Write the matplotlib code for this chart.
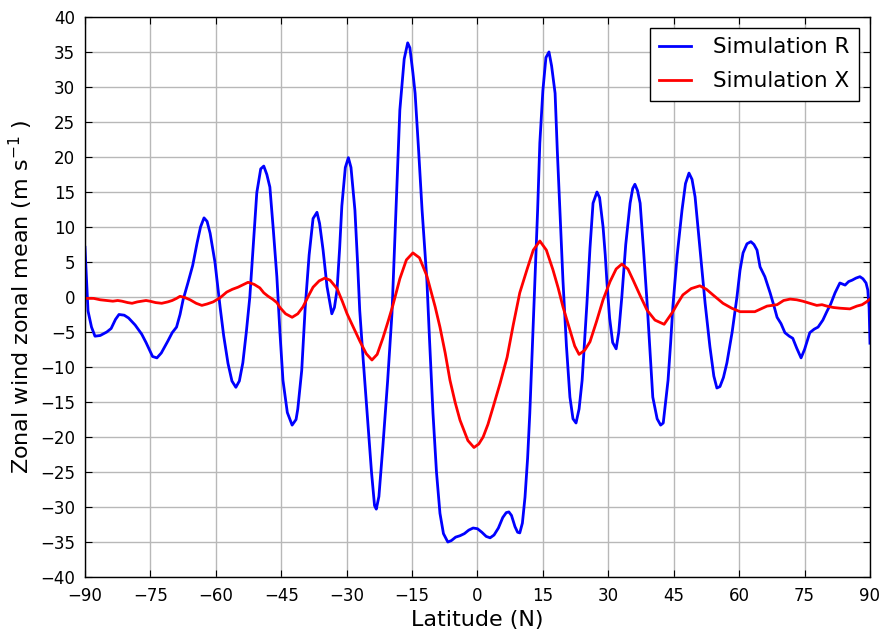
import matplotlib
matplotlib.use("Agg")
import matplotlib.pyplot as plt
import numpy as np

# Simulation R
lat_r = [-90, -89.6, -89.3, -88.5, -87.7, -86.5, -85, -84, -83, -82.2, -81, -80, -78.5, -77,
         -76, -74.5, -73.5, -72.5, -71, -70, -69, -68.2, -67.5, -66.4, -65.3, -64.3, -63.5,
         -62.7, -62, -61.3, -60.2, -59, -58.2, -57.2, -56.3, -55.4, -54.6, -53.8, -53, -52.2,
         -51.4, -50.6, -49.7, -49, -48.3, -47.6, -46.8, -46, -45.3, -44.6, -43.6, -42.5,
         -41.6, -41.2, -40.3, -39.5, -38.6, -37.7, -36.8, -36.2, -35.4, -34.5, -33.4, -32.8,
         -32.2, -31.6, -31.1, -30.3, -29.6, -29, -28.1, -27.5, -27, -26.2, -25.3, -24.3,
         -23.6, -23.2, -22.6, -21.7, -20.6, -19.6, -18.7, -17.8, -16.8, -16, -15.5, -14.8,
         -14.3, -13.5, -12.7, -11.6, -11, -10.2, -9.4, -8.6, -7.8, -6.8, -6, -5, -4, -3, -2,
         -1, 0, 1, 2, 2.9, 3.8, 4.8, 5.8, 6.6, 7.2, 7.8, 8.6, 9.2, 9.7, 10.3, 10.9, 11.5, 12,
         12.6, 13.2, 13.8, 14.3, 15, 15.7, 16.4, 17, 17.8, 18.3, 18.9, 19.6, 20.4, 21.2, 21.9,
         22.6, 23.3, 24, 24.6, 25.1, 25.8, 26.5, 27.4, 28, 28.8, 29.3, 29.7, 30.3, 31, 31.8,
         32.4, 33.1, 34, 35, 35.6, 36.1, 36.7, 37.3, 38.1, 38.9, 39.6, 40.2, 41.2, 42, 42.6,
         43.7, 44.3, 44.8, 45.8, 46.9, 47.7, 48.5, 49.2, 49.9, 51, 52.2, 53.3, 54.2, 54.9,
         55.6, 56.4, 57.2, 58.4, 59.5, 60.2, 60.9, 61.8, 62.7, 63.4, 64.1, 64.8, 65.9, 67.1,
         68, 68.7, 69.6, 70.5, 71.5, 72.3, 73.2, 74.2, 75, 76.2, 77.2, 78.1, 79.2, 80.1, 81,
         82, 83.1, 84.3, 85.1, 85.9, 86.8, 87.7, 88.4, 89.1, 89.5, 89.8, 90]
u_r = [7.1, 2, -2, -4.3, -5.6, -5.5, -5, -4.5, -3.2, -2.5, -2.6, -3, -4, -5.3,
       -6.5, -8.5, -8.7, -8, -6.3, -5.1, -4.3, -2.5, -0.4, 2, 4.5, 7.7, 10,
       11.3, 10.8, 9.1, 5, -1.5, -5.5, -9.5, -12, -12.9, -12, -9.4, -5, 0,
       7.5, 14.9, 18.3, 18.7, 17.5, 15.7, 9.5, 2.9, -5, -11.9, -16.5, -18.3,
       -17.5, -16, -10.5, -1.5, 6, 11.2, 12.1, 10.5, 6.7, 1.5, -2.4, -1.5,
       1, 7, 13, 18.5, 19.9, 18.5, 12.4, 5, -1.9, -9, -16.6, -25,
       -29.8, -30.3, -28.5, -21.4, -12, -2.3, 12, 26.7, 34, 36.3, 35.6, 32,
       29.1, 21, 12.4, 2.4, -6, -16.6, -25, -30.9, -33.8, -35, -34.8, -34.3, -34.1, -33.8, -33.3,
       -33, -33.1, -33.6, -34.2, -34.4, -34, -33, -31.5, -30.8, -30.7, -31.2, -32.8, -33.6, -33.7, -32.3, -28.6, -23, -16.6,
       -7, 2.4, 12.5, 22, 29.5, 34.2, 35, 33, 29.1, 21, 12.4, 2.4, -7, -14.3, -17.4,
       -18, -16, -11.9, -6, -0.9, 7, 13.4, 15, 14.2, 10, 6, 2, -3, -6.5, -7.4,
       -5, 0, 7.5, 13.4, 15.5, 16.1, 15.2, 13.4, 6.5, -0.9, -8, -14.3, -17.4, -18.3, -18,
       -11.9, -6.5, -1.4, 6, 12.4, 16.2, 17.7, 16.8, 14.3, 7, -0.9, -7.1, -11.3, -13,
       -12.8, -11.5, -9.4, -5, 0, 3.8, 6.3, 7.6, 7.9, 7.5, 6.7, 4.3, 2.9, 0.6,
       -1.3, -2.9, -3.8, -5.1, -5.6, -5.9, -7.3, -8.7, -7.5, -5.1, -4.6, -4.3, -3.3, -2.1, -1,
       0.6, 2, 1.7, 2.2, 2.4, 2.7, 2.9, 2.6, 2, 1, -1.5, -6.6]

# Simulation X
lat_x = [-90, -88, -86.5, -85, -83.6, -82.5, -81.5, -80.2, -79.2, -78, -77, -76, -75.1, -73.8,
         -72.4, -71, -70, -69, -68.2, -67, -65.9, -64.5, -63.2, -62, -60.6, -59, -57.5, -56.2,
         -54.9, -53.6, -52.6, -51.2, -49.9, -49, -48, -47, -46, -45.3, -44, -42.5, -41.2, -40,
         -38.8, -37.7, -36.3, -35, -33.8, -32.2, -31, -29.9, -28.4, -26.9, -25.5, -24.2, -23,
         -21.7, -20.5, -19.4, -17.8, -16.3, -14.8, -13.3, -11.6, -9.7, -8.6, -7.4, -6.3, -5.1,
         -4, -2.2, -0.8, 0.3, 1.3, 2.4, 3.6, 5.2, 6.8, 8.2, 9.7, 11.4, 12.8, 14.3, 15.8, 17.3,
         18.5, 19.6, 21.2, 22.3, 23.3, 24.6, 25.8, 27.3, 28.8, 30.4, 31.8, 33.1, 34.5, 35.7,
         37.3, 38.9, 40.7, 42.8, 44.8, 46, 47.1, 49, 51, 52.5, 54, 56.3, 58.3, 60.2, 62, 63.6,
         65, 66.4, 67.6, 68.7, 70.2, 71.7, 73.2, 74.6, 76.2, 77.8, 79, 80.1, 81.6, 83.1, 85.4,
         87, 88.2, 89.2, 90]
u_x = [-0.2, -0.2, -0.4, -0.5, -0.6, -0.5, -0.6, -0.8, -0.9, -0.7, -0.6, -0.5, -0.6, -0.8,
       -0.9, -0.7, -0.5, -0.2, 0.1, -0.1, -0.4, -0.9, -1.2, -1, -0.7, -0.1, 0.7, 1.1,
       1.4, 1.8, 2.1, 1.8, 1.3, 0.6, 0.1, -0.3, -0.8, -1.5, -2.4, -2.9, -2.4, -1.4,
       0.1, 1.4, 2.3, 2.7, 2.4, 1.2, -0.6, -2.4, -4.4, -6.4, -8.1, -9, -8.2,
       -5.9, -3.5, -1.2, 2.6, 5.3, 6.3, 5.6, 3, -1.4, -4.3, -8, -11.9, -15.1,
       -17.6, -20.5, -21.5, -21, -20, -18.2, -15.7, -12.3, -8.6, -4, 0.6, 4, 6.7, 8, 6.7, 3.9,
       1.3, -1.4, -4.7, -7, -8.2, -7.6, -6.4, -3.5, -0.4, 2.2, 4, 4.7, 4, 2.4,
       0.2, -1.9, -3.3, -3.9, -2.1, -0.8, 0.3, 1.2, 1.6, 1.1, 0.3, -0.9, -1.6, -2.1, -2.1, -2.1,
       -1.7, -1.3, -1.2, -1.1, -0.5, -0.3, -0.4, -0.6, -0.9, -1.2, -1.1, -1.3, -1.5, -1.6, -1.7,
       -1.3, -1.1, -0.7, -0.3]

fig = plt.figure(figsize=(8.86, 6.35), dpi=100)
ax = fig.add_axes([0.0959, 0.0913, 0.886, 0.882])

ax.plot(lat_r, u_r, color="blue", lw=2, label="Simulation R")
ax.plot(lat_x, u_x, color="red", lw=2, label="Simulation X")

ax.set_xlim(-90, 90)
ax.set_ylim(-40, 40)
ax.set_xticks(np.arange(-90, 91, 15))
ax.set_yticks(np.arange(-40, 41, 5))
ax.grid(True, color="#b8b8b8", lw=1, ls="-")
ax.set_axisbelow(True)
ax.tick_params(direction="in", top=True, right=True, labelsize=12, length=5, pad=7)
for s in ax.spines.values():
    s.set_linewidth(1)

ax.set_xlabel("Latitude (N)", fontsize=16)
ax.set_ylabel(r"Zonal wind zonal mean (m s$^{-1}$ )", fontsize=16)

leg = ax.legend(loc="upper right", fontsize=15.5, fancybox=False, framealpha=1,
                edgecolor="black", handlelength=1.5, handletextpad=1.0,
                borderaxespad=0.5, borderpad=0.45, labelspacing=0.65)
leg.get_frame().set_linewidth(1)

fig.savefig("out.png", dpi=100)
